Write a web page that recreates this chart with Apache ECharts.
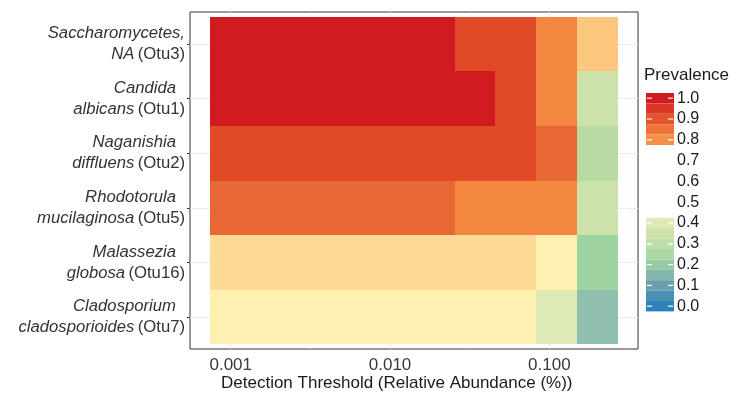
<!DOCTYPE html>
<html><head><meta charset="utf-8">
<script src="https://cdn.jsdelivr.net/npm/echarts@6/dist/echarts.min.js"></script>
<style>html,body{margin:0;padding:0;background:#fff}#c{width:737px;height:406px}</style>
</head><body><div id="c"></div>
<script>
// ---- data ----
const genus = ['Saccharomycetes,', 'Candida', 'Naganishia', 'Rhodotorula', 'Malassezia', 'Cladosporium'];
const species = ['NA', 'albicans', 'diffluens', 'mucilaginosa', 'globosa', 'cladosporioides'];
const otus = ['Otu3', 'Otu1', 'Otu2', 'Otu5', 'Otu16', 'Otu7'];
const detection = [0.001, 0.001802, 0.003246, 0.005848, 0.01054, 0.01899, 0.03421, 0.06163, 0.1110, 0.2];
const prevOtu3  = [1.00, 1.00, 1.00, 1.00, 1.00, 1.00, 0.92, 0.92, 0.82, 0.67];
const prevOtu1  = [1.00, 1.00, 1.00, 1.00, 1.00, 1.00, 1.00, 0.92, 0.82, 0.35];
const prevOtu2  = [0.92, 0.92, 0.92, 0.92, 0.92, 0.92, 0.92, 0.92, 0.87, 0.27];
const prevOtu5  = [0.87, 0.87, 0.87, 0.87, 0.87, 0.87, 0.82, 0.82, 0.82, 0.35];
const prevOtu16 = [0.61, 0.61, 0.61, 0.61, 0.61, 0.61, 0.61, 0.61, 0.55, 0.22];
const prevOtu7  = [0.55, 0.55, 0.55, 0.55, 0.55, 0.55, 0.55, 0.55, 0.40, 0.17];
const prevalence = [prevOtu3, prevOtu1, prevOtu2, prevOtu5, prevOtu16, prevOtu7];
const xTickValues = [0.001, 0.01, 0.1];
const xTickLabels = ['0.001', '0.010', '0.100'];
const xMinorValues = [0.0003162, 0.003162, 0.03162, 0.3162];
const legendTicks = [1.0, 0.9, 0.8, 0.7, 0.6, 0.5, 0.4, 0.3, 0.2, 0.1, 0.0];
const legendTickLabels = ['1.0', '0.9', '0.8', '0.7', '0.6', '0.5', '0.4', '0.3', '0.2', '0.1', '0.0'];

// ---- colour ramp (style) ----
const stops = [[0, '#2B83BA'], [0.1, '#6A9FAE'], [0.17, '#8FBFAD'], [0.22, '#9DD3A0'], [0.27, '#B6DBA5'],
  [0.35, '#CDE2AB'], [0.40, '#DDEAB5'], [0.5, '#FFFBBF'], [0.55, '#FEF0B0'], [0.61, '#FDDA95'],
  [0.67, '#FDC87E'], [0.82, '#F4873F'], [0.87, '#E86835'], [0.92, '#E04A27'], [1.0, '#D11B21']];
function hex2rgb(h) { return [1, 3, 5].map(i => parseInt(h.substr(i, 2), 16)); }
function rampColor(v) {
  for (let i = 1; i < stops.length; i++) {
    if (v <= stops[i][0] + 1e-9) {
      const a = stops[i - 1], b = stops[i];
      const t = (v - a[0]) / (b[0] - a[0]);
      const ca = hex2rgb(a[1]), cb = hex2rgb(b[1]);
      const c = ca.map((x, k) => Math.round(x + (cb[k] - x) * t));
      return 'rgb(' + c.join(',') + ')';
    }
  }
  return stops[stops.length - 1][1];
}
const ramp = [];
for (let i = 0; i <= 100; i++) ramp.push(rampColor(i / 100));

// tile edges (geometric midpoints between detection thresholds)
const edges = [];
for (let i = 1; i < detection.length; i++) edges[i] = Math.sqrt(detection[i - 1] * detection[i]);
edges[0] = detection[0] * detection[0] / edges[1];
edges[detection.length] = detection[detection.length - 1] * detection[detection.length - 1] / edges[detection.length - 1];

const tiles = [];
prevalence.forEach((row, r) => row.forEach((v, c) => tiles.push([edges[c], edges[c + 1], r, v])));

// legend pieces
const LEG = { left: 646, top: 93, w: 28, h: 10.4 };
const pieces = [];
for (let k = 0; k <= 20; k++) {
  const c = k * 0.05;
  const white = c > 0.43 && c < 0.77;
  pieces.push({ min: c - 0.025, max: c + 0.025, color: white ? '#FFFFFF' : rampColor(c) });
}
const FONT = 'Liberation Sans, Arial, Helvetica, sans-serif';
const graphics = [];
legendTicks.forEach((v, k) => {
  const idx = Math.round((1 - v) / 0.05);
  const y = LEG.top + idx * LEG.h + LEG.h / 2;
  graphics.push({ type: 'line', shape: { x1: LEG.left + 1, y1: y, x2: LEG.left + 6, y2: y }, style: { stroke: '#fff', lineWidth: 1.2 }, z: 100 });
  graphics.push({ type: 'line', shape: { x1: LEG.left + LEG.w - 6, y1: y, x2: LEG.left + LEG.w - 1, y2: y }, style: { stroke: '#fff', lineWidth: 1.2 }, z: 100 });
  graphics.push({ type: 'text', x: LEG.left + LEG.w + 3, y: y, style: { text: legendTickLabels[k], font: '16px ' + FONT, fill: '#1a1a1a', textVerticalAlign: 'middle', verticalAlign: 'middle' }, z: 100 });
});
graphics.push({ type: 'text', left: 221, top: 375, style: { text: 'Detection Threshold (Relative Abundance (%))', font: '17px ' + FONT, fill: '#1a1a1a' } });

const chart = echarts.init(document.getElementById('c'), null, { renderer: 'canvas' });
chart.setOption({
  animation: false,
  backgroundColor: '#fff',
  textStyle: { fontFamily: FONT },
  title: { text: 'Prevalence', left: 644, top: 67, padding: 0, textStyle: { fontSize: 17, fontWeight: 'normal', color: '#1a1a1a', fontFamily: FONT } },
  grid: { left: 190, right: 99, top: 12, bottom: 57, show: true, borderColor: '#333', borderWidth: 1, containLabel: false },
  xAxis: [{
    type: 'log', logBase: 10,
    min: Math.pow(10, -3.2557), max: Math.pow(10, -0.4433),
    axisLine: { show: false },
    axisTick: { show: true, length: 3, lineStyle: { color: '#333' }, customValues: xTickValues },
    axisLabel: { customValues: xTickValues, margin: 8, fontSize: 17, color: '#3a3a3a', fontFamily: FONT,
      formatter: v => { const i = xTickValues.findIndex(t => Math.abs(t - v) / t < 1e-6); return i >= 0 ? xTickLabels[i] : ''; } },
    splitLine: { show: true, lineStyle: { color: '#EBEBEB', width: 1.1 } }
  }, {
    type: 'log', logBase: 10, position: 'bottom',
    min: Math.pow(10, -3.2557), max: Math.pow(10, -0.4433),
    axisLine: { show: false }, axisLabel: { show: false },
    axisTick: { show: false, customValues: xMinorValues },
    splitLine: { show: true, lineStyle: { color: '#F2F2F2', width: 0.6 } }
  }],
  yAxis: {
    type: 'value', inverse: true, min: -0.585, max: 5.585,
    axisLine: { show: false },
    axisTick: { show: true, length: 3, lineStyle: { color: '#333' }, customValues: [0, 1, 2, 3, 4, 5] },
    splitLine: { show: true, lineStyle: { color: '#EBEBEB', width: 1.1 } },
    axisLabel: {
      customValues: [0, 1, 2, 3, 4, 5], margin: 5, align: 'right',
      formatter: v => {
        const i = Math.round(v);
        const g = genus[i].endsWith(',') ? '{i|' + genus[i] + '}' : '{g|' + genus[i] + '}';
        return g + '\n{i|' + species[i] + '} {n|(' + otus[i] + ')}';
      },
      rich: {
        i: { fontStyle: 'italic', fontSize: 16.7, color: '#333', lineHeight: 21, fontFamily: FONT },
        g: { fontStyle: 'italic', fontSize: 16.7, color: '#333', lineHeight: 21, fontFamily: FONT, padding: [0, 9, 0, 0] },
        n: { fontSize: 16.7, color: '#333', lineHeight: 21, fontFamily: FONT }
      }
    }
  },
  visualMap: [{
    type: 'continuous', show: false, seriesIndex: 0, dimension: 3, min: 0, max: 1,
    inRange: { color: ramp }
  }, {
    type: 'piecewise', seriesIndex: 1, pieces: pieces, itemSymbol: 'rect', showLabel: false,
    left: LEG.left, top: LEG.top, padding: 0, itemWidth: LEG.w, itemHeight: LEG.h, itemGap: 0, textGap: 0,
    selectedMode: false, hoverLink: false
  }],
  graphic: graphics,
  series: [{
    type: 'custom', xAxisIndex: 0, yAxisIndex: 0,
    dimensions: ['x0', 'x1', 'row', 'prev'],
    encode: { x: [0, 1], y: 2 },
    data: tiles,
    renderItem: (params, api) => {
      const a = api.coord([api.value(0), api.value(2) - 0.5]);
      const b = api.coord([api.value(1), api.value(2) + 0.5]);
      const x0 = Math.round(a[0]), x1 = Math.round(b[0]);
      const y0 = Math.round(Math.min(a[1], b[1])), y1 = Math.round(Math.max(a[1], b[1]));
      return { type: 'rect', shape: { x: x0, y: y0, width: x1 - x0, height: y1 - y0 }, style: { fill: api.visual('color') } };
    }
  }, {
    type: 'custom', xAxisIndex: 0, yAxisIndex: 0, data: [], renderItem: () => null
  }]
});
</script></body></html>
